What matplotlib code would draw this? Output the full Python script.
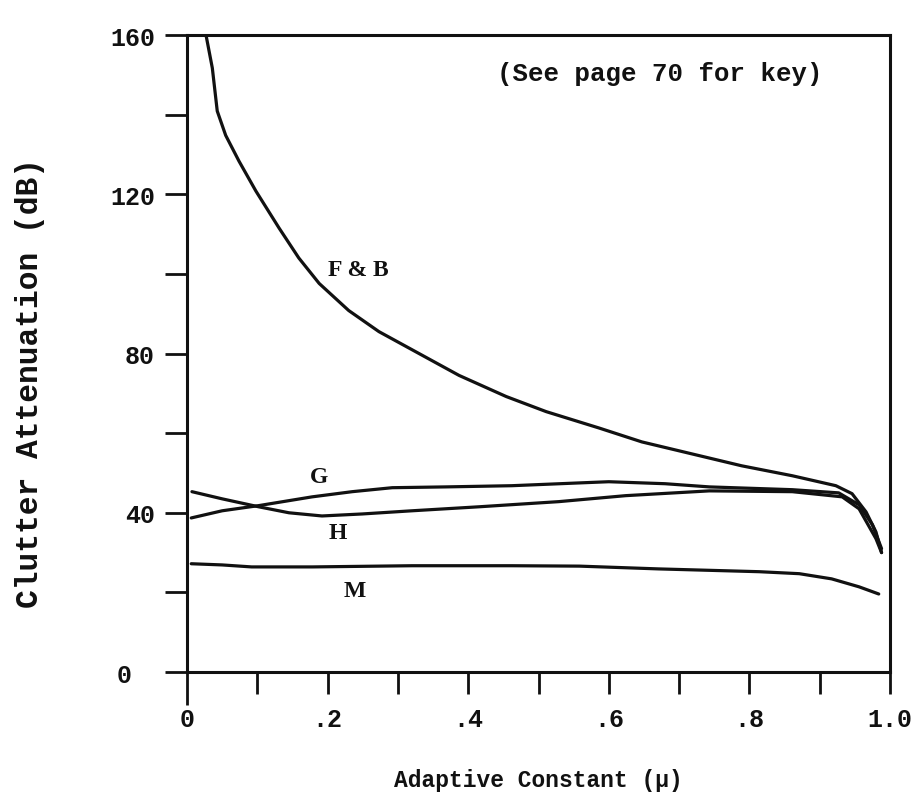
import matplotlib.pyplot as plt

# ----- style -----
MONO = ["Liberation Mono", "DejaVu Sans Mono"]
SERIF = ["Liberation Serif", "DejaVu Serif"]
INK = "#111111"

plt.rcParams.update({
    "font.family": MONO,
    "font.weight": "bold",
    "axes.labelweight": "bold",
    "axes.linewidth": 2.2,
    "figure.facecolor": "white",
    "savefig.facecolor": "white",
})

# ----- data (clutter attenuation vs adaptive constant) -----
fb_mu = [0.027, 0.036, 0.043, 0.055, 0.074, 0.098, 0.131, 0.159, 0.188, 0.230,
         0.273, 0.330, 0.387, 0.454, 0.511, 0.586, 0.647, 0.718, 0.789, 0.861,
         0.923, 0.946, 0.966, 0.980, 0.988]
fb_db = [160.0, 151.7, 140.9, 134.8, 128.3, 120.8, 111.5, 104.0, 97.6, 90.8,
         85.5, 80.0, 74.5, 69.2, 65.4, 61.3, 57.8, 54.8, 51.8, 49.3,
         46.8, 44.8, 40.2, 35.2, 30.0]

g_mu = [0.006, 0.050, 0.102, 0.178, 0.235, 0.292, 0.368, 0.462, 0.558, 0.600,
        0.680, 0.743, 0.861, 0.927, 0.956, 0.975, 0.988]
g_db = [38.7, 40.5, 41.8, 44.0, 45.3, 46.3, 46.5, 46.8, 47.5, 47.8,
        47.3, 46.5, 45.8, 45.0, 42.0, 37.0, 31.0]

h_mu = [0.007, 0.050, 0.102, 0.145, 0.192, 0.249, 0.320, 0.415, 0.529, 0.624,
        0.743, 0.861, 0.932, 0.956, 0.980, 0.988]
h_db = [45.3, 43.5, 41.5, 40.0, 39.2, 39.7, 40.5, 41.5, 42.8, 44.3,
        45.5, 45.3, 44.0, 41.0, 33.5, 30.0]

m_mu = [0.006, 0.050, 0.092, 0.178, 0.320, 0.462, 0.558, 0.671, 0.814, 0.871,
        0.917, 0.956, 0.984]
m_db = [27.2, 26.9, 26.4, 26.4, 26.7, 26.7, 26.6, 25.9, 25.2, 24.7,
        23.4, 21.4, 19.6]

x_ticks = [0.0, 0.1, 0.2, 0.3, 0.4, 0.5, 0.6, 0.7, 0.8, 0.9, 1.0]
x_tick_labels = ["0", "", ".2", "", ".4", "", ".6", "", ".8", "", "1.0"]
y_ticks = [0, 20, 40, 60, 80, 100, 120, 140, 160]
y_tick_labels = ["0", "", "40", "", "80", "", "120", "", "160"]

# ----- canvas -----
fig = plt.figure(figsize=(9.24, 8.04), dpi=100)
ax = fig.add_axes([0.2024, 0.1629, 0.7608, 0.7923])
ax.set_xlim(0, 1.0)
ax.set_ylim(0, 160)

for spine in ax.spines.values():
    spine.set_color(INK)

line_kw = dict(color=INK, linewidth=2.3, solid_capstyle="round", solid_joinstyle="round")
ax.plot(fb_mu, fb_db, **line_kw)
ax.plot(g_mu, g_db, **line_kw)
ax.plot(h_mu, h_db, **line_kw)
ax.plot(m_mu, m_db, **line_kw)

# ----- ticks -----
ax.set_xticks(x_ticks)
ax.set_xticklabels(x_tick_labels)
ax.set_yticks(y_ticks)
ax.set_yticklabels(y_tick_labels)
ax.tick_params(direction="out", length=16, width=2.0, color=INK,
               labelsize=18, labelcolor=INK)
ax.tick_params(axis="x", pad=9)
ax.tick_params(axis="y", pad=7)

# the zero ticks on both axes run longer than the rest
x0 = ax.xaxis.get_major_ticks()[0]
x0.tick1line.set_markersize(24)
y0 = ax.yaxis.get_major_ticks()[0]
y0.tick1line.set_markersize(31)
y0.set_pad(24)

# ----- labels -----
ax.set_xlabel("Adaptive Constant (\u00b5)", fontsize=16.5, labelpad=27, color=INK)
ax.set_ylabel("Clutter Attenuation (dB)", fontsize=22.5, color=INK)
ax.yaxis.set_label_coords(-0.202, 0.455)

curve_kw = dict(family=SERIF, fontsize=17, fontweight="bold",
                ha="center", va="center", color=INK)
ax.text(0.243, 101, "F & B", **curve_kw)
ax.text(0.188, 49, "G", **curve_kw)
ax.text(0.215, 35, "H", **curve_kw)
ax.text(0.238, 20.6, "M", **curve_kw)

ax.text(0.673, 150.4, "(See page 70 for key)", fontsize=18.5,
        ha="center", va="center", color=INK)

fig.savefig("out.png", dpi=100)
